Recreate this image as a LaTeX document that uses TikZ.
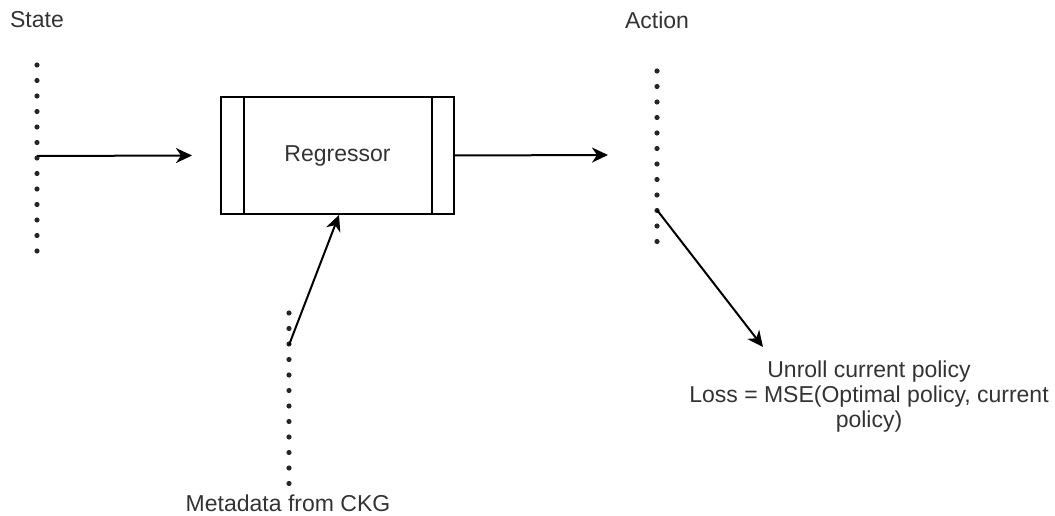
\documentclass[tikz,border=0pt]{standalone}
\usepackage{fontspec}
\setmainfont{Liberation Sans}
\usetikzlibrary{arrows.meta}
\definecolor{txt}{HTML}{333333}
\begin{document}
\begin{tikzpicture}[x=1pt,y=-1pt,
  every node/.style={font=\fontsize{23}{25}\selectfont, text=txt},
  flow/.style={line width=2pt, -{Stealth[length=16pt,width=15pt,inset=5pt]}},
  procbox/.style={draw, line width=1.8pt, minimum width=233pt, minimum height=117pt, inner sep=0pt}]
\useasboundingbox (0,0) rectangle (1055,516);

% a vertical column of round dots: x, first y, count
\newcommand{\dotcolumn}[3]{%
  \foreach \k in {1,...,#3} {\fill[black!85] (#1,{#2+(\k-1)*15.5}) circle (2.6pt);}}

% input state column
\coordinate (sout) at (37,156);
\dotcolumn{37}{65}{13}
\node (state) at (37,20) {State};

% regressor block with side bars
\node[procbox] (reg) at (337.5,155.5) {Regressor};
\draw[line width=1.8pt] ([xshift=24pt]reg.north west) -- ([xshift=24pt]reg.south west);
\draw[line width=1.8pt] ([xshift=-23pt]reg.north east) -- ([xshift=-23pt]reg.south east);

% action column
\coordinate (aout) at (657,210);
\coordinate (ain) at (608,155);
\dotcolumn{657}{71}{12}
\node (action) at (657,20) {Action};

% metadata column
\coordinate (mout) at (289,345);
\dotcolumn{289}{313}{12}
\node (meta) at (288,503) {Metadata from CKG};

% loss description
\node[align=center] (loss) at (869,397) {Unroll current policy\\Loss = MSE(Optimal policy, current\\policy)};
\coordinate (lossin) at (763,347);

% connectors
\draw[flow] (sout) -- (reg.west -| 192,0);
\draw[flow] (reg.east) -- (ain);
\draw[flow] (mout) -- ([xshift=1.5pt]reg.south);
\draw[flow] (aout) -- (lossin);
\end{tikzpicture}
\end{document}
